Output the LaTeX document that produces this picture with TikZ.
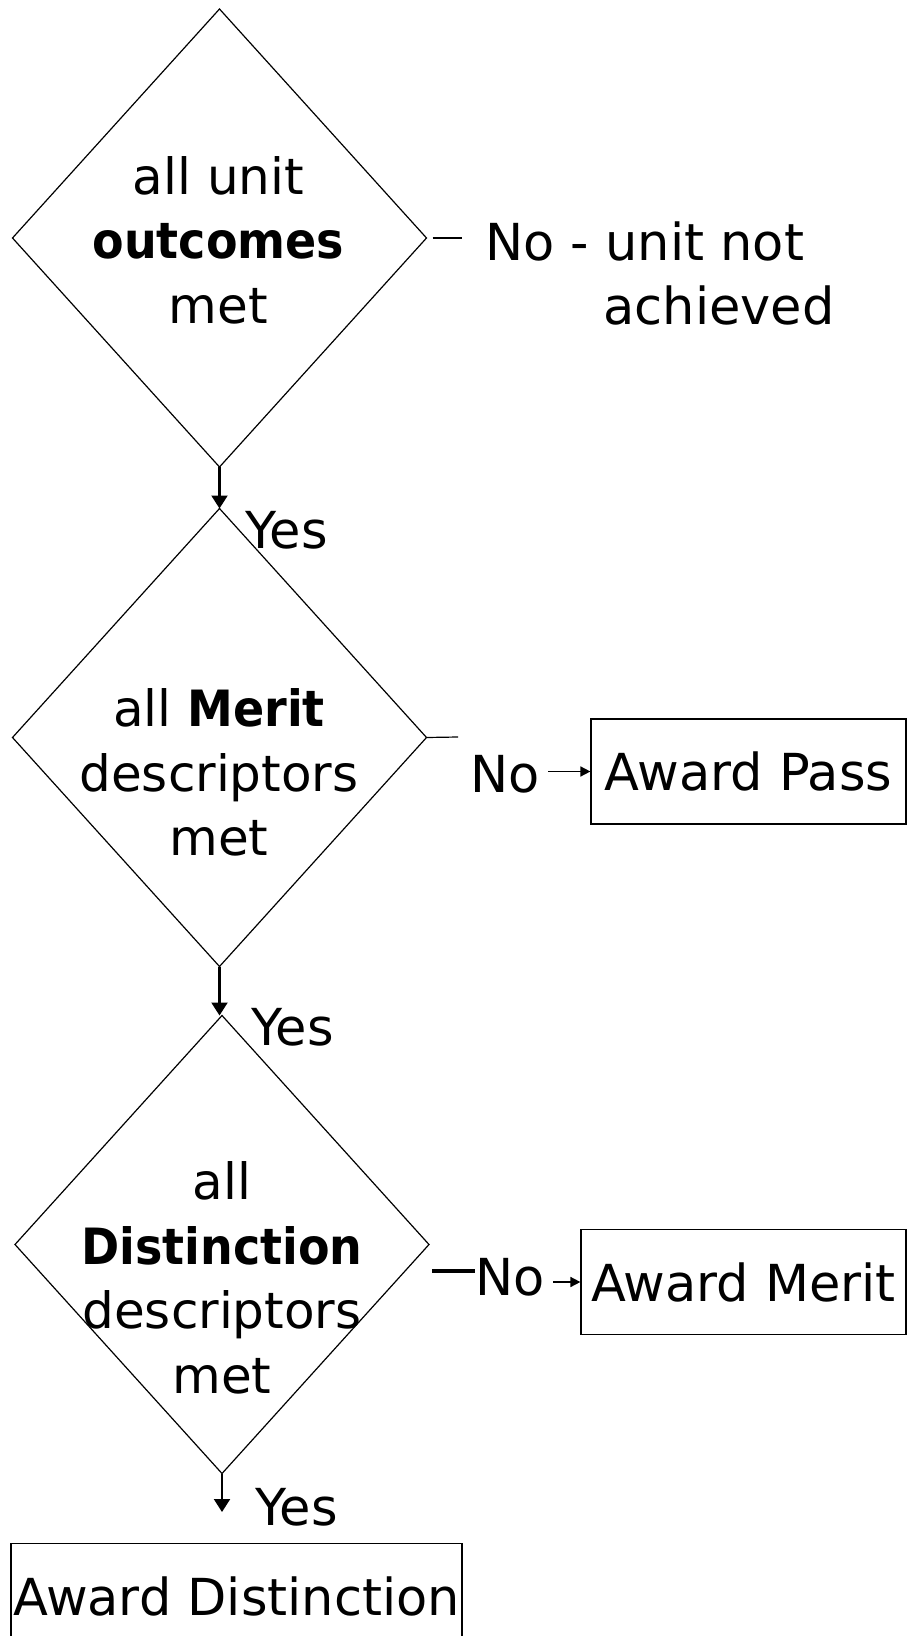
\documentclass[tikz,border=0pt]{standalone}
\usepackage{fontspec}
\setmainfont{DejaVu Sans}[BoldFeatures={FakeStretch=0.92}]
\usetikzlibrary{shapes.geometric,arrows.meta}

\tikzset{
  decision/.style={draw, shape=diamond, line width=0.6pt, inner sep=0pt, outer sep=0pt,
    minimum width=207pt, minimum height=229pt},
  award/.style={draw, rectangle, line width=0.6pt, inner sep=0pt, minimum height=52.5pt,
    font=\fontsize{25.5}{30}\selectfont},
  question/.style={align=center, inner sep=0pt, font=\fontsize{25}{32.25}\selectfont},
  answer/.style={inner sep=0pt, font=\fontsize{25.5}{32.25}\selectfont},
  yesarrow/.style={line width=1.1pt, -{Triangle[length=6.5pt,width=8pt]}},
  noarrow/.style={line width=0.8pt, -{Triangle[length=5pt,width=5pt]}},
}

\begin{document}
\begin{tikzpicture}[x=0.5pt, y=-0.5pt]
\useasboundingbox (0,0) rectangle (907,1636);

% all unit outcomes met
\node[decision] (q1) at (219.5,238) {};
\node[question] (t1) at (218.5,240) {all unit\\\textbf{outcomes}\\met};
\coordinate (c1) at (462,238);
\draw[line width=0.6pt, shorten <=3pt] (q1.east) -- (c1);
\node[answer, anchor=north west, align=left] (fail) at (485,221) {No - unit not\\\hspace*{59pt}achieved};

% all Merit descriptors met
\node[decision] (q2) at (219.5,737.5) {};
\node[question] (t2) at (219,772.5) {all \textbf{Merit}\\descriptors\\met};
\draw[yesarrow] (q1.south) -- (q2.north);
\node[answer, anchor=base west] (y1) at (245,548) {Yes};
\coordinate (c2) at (458,737);
\draw[line width=0.6pt] (q2.east) -- (c2);
\node[answer, anchor=base west] (n2) at (470,792) {No};
\node[award, minimum width=157.5pt] (pass) at (748.5,771.5) {Award Pass};
\draw[noarrow, shorten <=4pt] (n2.east |- pass.west) -- (pass.west);

% all Distinction descriptors met
\node[decision] (q3) at (222,1244.5) {};
\node[question] (t3) at (222,1278) {all\\\textbf{Distinction}\\descriptors\\met};
\draw[yesarrow] (q2.south) -- (q2.south |- q3.north);
\node[answer, anchor=base west] (y2) at (251,1045) {Yes};
\coordinate (c3) at (432,1271);
\node[answer, anchor=base west] (n3) at (475,1295) {No};
\draw[line width=1.75pt] (c3) -- (c3 -| n3.west);
\node[award, minimum width=162.5pt] (merit) at (743.5,1282) {Award Merit};
\draw[noarrow, shorten <=4pt] (n3.east |- merit.west) -- (merit.west);

% final award
\coordinate (c4) at (222,1512);
\draw[yesarrow] (q3.south) -- (c4);
\node[answer, anchor=base west] (y3) at (255,1525) {Yes};
\node[award, minimum width=225.5pt] (dist) at (236.5,1596) {Award Distinction};

\end{tikzpicture}
\end{document}
